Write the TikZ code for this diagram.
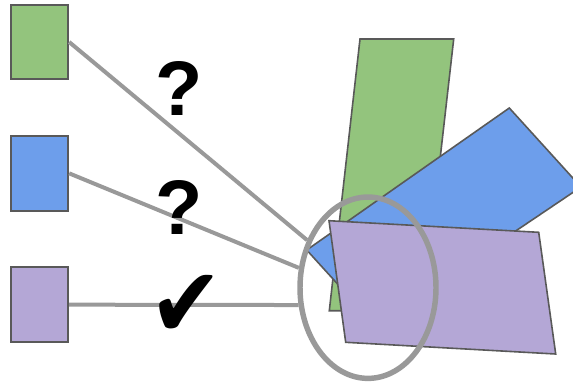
\documentclass[tikz,border=0pt]{standalone}
\usepackage{fontspec}
\setmainfont{Liberation Sans}
\newfontfamily\checkfont{DejaVu Sans}
\usetikzlibrary{positioning, shapes.geometric}
\definecolor{sqgreen}{HTML}{93C47D}
\definecolor{sqblue}{HTML}{6D9EEB}
\definecolor{sqpurple}{HTML}{B4A7D6}
\definecolor{edgegray}{HTML}{595959}
\definecolor{linkgray}{HTML}{999999}
\tikzset{
	sqbox/.style={draw=edgegray, line width=1.5pt, minimum width=43pt, minimum height=56pt, inner sep=0pt}
}
\tikzset{
	slab/.style={draw=edgegray, line width=1.2pt, line join=miter}
}
\tikzset{
	linkline/.style={draw=linkgray, line width=3pt}
}
\tikzset{
	marktext/.style={font=\fontsize{58}{58}\selectfont\bfseries, inner sep=0pt}
}
\newcommand{\tick}{{\checkfont\fontsize{66}{66}\selectfont ✔}}

\begin{document}
\begin{tikzpicture}[x=0.75pt, y=-0.75pt]
  \useasboundingbox (0,0) rectangle (573,383);
  % the three swatches on the left
  \node[sqbox, fill=sqgreen] (gsq) at (39.5,42) {};
  \node[sqbox, fill=sqblue, below=41pt of gsq] (bsq) {};
  \node[sqbox, fill=sqpurple, below=41pt of bsq] (psq) {};
  % tilted slabs
  \filldraw[slab, fill=sqgreen] (360,39) -- (453.7,39) -- (422.8,310.7) -- (329.3,310.7) -- cycle;
  \filldraw[slab, fill=sqblue] (306.7,250) -- (509.3,108) -- (581,187) -- (375.3,325.5) -- cycle;
  \filldraw[slab, fill=sqpurple] (329,220.7) -- (538.7,232.3) -- (555.7,354) -- (345.7,342.3) -- cycle;
  % the loupe
  \node[ellipse, draw=linkgray, line width=4.1pt, minimum width=102pt, minimum height=136pt, inner sep=0pt] (lens) at (368,287.7) {};
  \draw[linkline] (gsq.east) -- (lens.142);
  \draw[linkline] (bsq.east) -- (lens.164);
  \draw[linkline] (psq.east) -- (lens.194);
  \node[marktext] (q1) at (179,88.7) {?};
  \node[marktext] (q2) at (179,207.5) {?};
  \node[inner sep=0pt, yscale=1.12, transform shape] (ok) at (186,306) {\tick};
\end{tikzpicture}
\end{document}
